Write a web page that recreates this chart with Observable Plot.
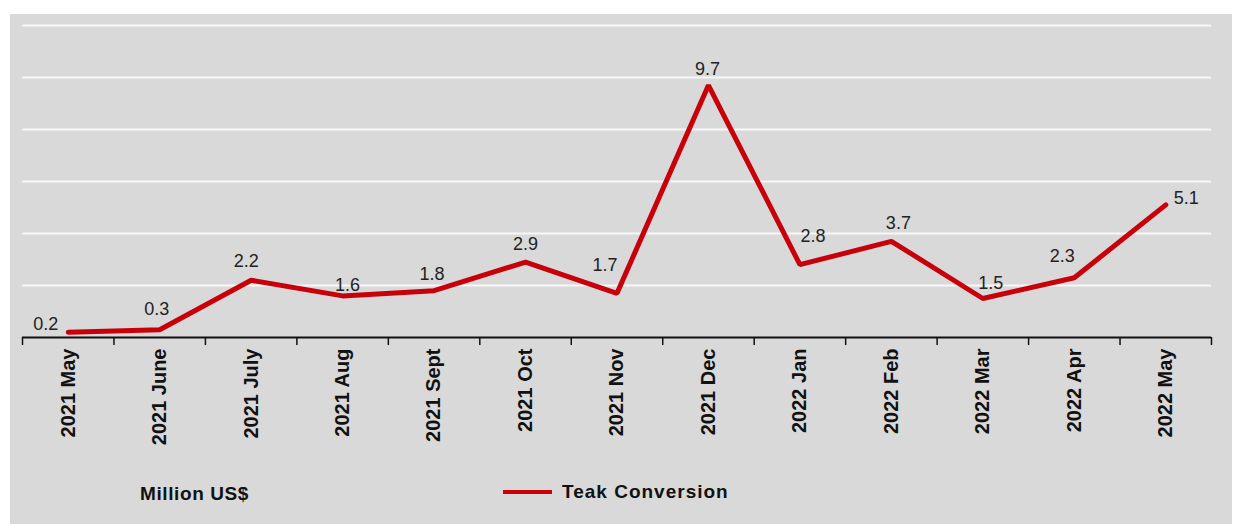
<!DOCTYPE html>
<html>
<head>
<meta charset="utf-8">
<script src="https://cdn.jsdelivr.net/npm/d3@7"></script>
<script src="https://cdn.jsdelivr.net/npm/@observablehq/plot@0.6"></script>
<style>
  html, body { margin: 0; padding: 0; background: #ffffff; }
  #panel {
    position: absolute; left: 10px; top: 14px; width: 1222px; height: 510px;
    background: #d9d9d9; font-family: "Liberation Sans", Arial, sans-serif;
  }
  #unit {
    position: absolute; left: 130px; top: 469px; font-size: 19px; font-weight: bold;
    color: #111; letter-spacing: 0.6px;
  }
  #legend {
    position: absolute; left: 493px; top: 467px; display: flex; align-items: center;
    font-size: 19px; font-weight: bold; color: #111; letter-spacing: 1px;
  }
  #legend .sw { width: 49px; height: 4px; background: #c8000a; margin-right: 10px; }
</style>
</head>
<body>
<div id="panel">
  <div id="chart"></div>
  <div id="unit">Million US$</div>
  <div id="legend"><span class="sw"></span><span>Teak Conversion</span></div>
</div>
<script>
const months = ["2021 May","2021 June","2021 July","2021 Aug","2021 Sept","2021 Oct","2021 Nov","2021 Dec","2022 Jan","2022 Feb","2022 Mar","2022 Apr","2022 May"];
const values = [0.2, 0.3, 2.2, 1.6, 1.8, 2.9, 1.7, 9.7, 2.8, 3.7, 1.5, 2.3, 5.1];
const gridTicks = [2, 4, 6, 8, 10, 12];

const data = months.map((m, i) => ({i, month: m, value: values[i]}));
const n = months.length;
const idx = d3.range(n);
const bounds = d3.range(n + 1).map(k => k - 0.5);

// label placement (styling only, mimics the spreadsheet's label layout)
const labelStyle = [
  {dx: -10, dy: -8, textAnchor: "end"},
  {dx: -3, dy: -20}, {dx: -5, dy: -19}, {dx: 5, dy: -11}, {dx: -2, dy: -16},
  {dx: 0, dy: -18}, {dx: -12, dy: -28}, {dx: -1, dy: -16}, {dx: 13, dy: -28},
  {dx: 7, dy: -18}, {dx: 8, dy: -15}, {dx: -12, dy: -21},
  {dx: 8, dy: -7, textAnchor: "start"}
];

const labelMarks = data.map(d => Plot.text([d], {
  x: "i", y: "value", text: v => v.value.toFixed(1),
  fontSize: 18, fill: "#222", ...labelStyle[d.i]
}));

const chart = Plot.plot({
  width: 1222,
  height: 450,
  marginTop: 11,
  marginLeft: 12,
  marginRight: 21,
  marginBottom: 127,
  style: {fontFamily: "'Liberation Sans', Arial, sans-serif", background: "transparent", color: "#111"},
  x: {domain: [-0.5, n - 0.5]},
  y: {domain: [0, 12]},
  marks: [
    Plot.gridY(gridTicks, {stroke: "#f7f7f7", strokeOpacity: 1, strokeWidth: 2}),
    Plot.axisY({ticks: [], label: null}),
    Plot.axisX({ticks: bounds, tickSize: 8, tickFormat: () => "", stroke: "#111", strokeWidth: 1.5, label: null}),
    Plot.axisX({ticks: idx, tickSize: 0, tickPadding: 11, tickRotate: -90, tickFormat: i => months[i],
      fontSize: 20, fontWeight: "bold", fill: "#111", label: null}),
    Plot.ruleY([0], {stroke: "#111", strokeWidth: 2}),
    Plot.line(data, {x: "i", y: "value", stroke: "#c8000a", strokeWidth: 5, strokeLinejoin: "miter"}),
    ...labelMarks
  ]
});
document.getElementById("chart").appendChild(chart);
</script>
</body>
</html>
